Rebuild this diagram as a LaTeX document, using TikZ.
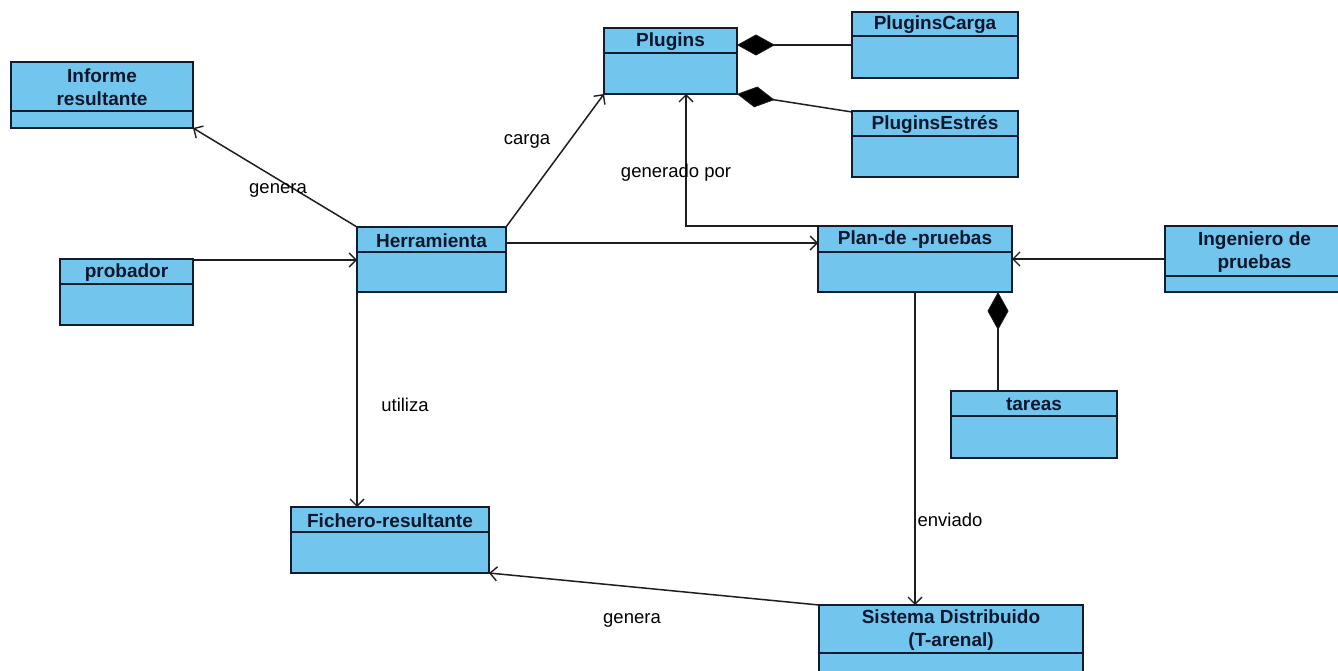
\documentclass[tikz,border=0pt]{standalone}
\usepackage{fontspec}
\setmainfont{Liberation Sans}
\usetikzlibrary{arrows.meta,calc}

\definecolor{classfill}{RGB}{114,198,238}
\definecolor{classline}{RGB}{18,28,46}
\definecolor{classtext}{RGB}{10,22,44}
\definecolor{linkcol}{RGB}{30,30,30}

\tikzset{
  classbox/.style={draw=classline, line width=2pt, fill=classfill, rectangle,
                   inner sep=0pt, outer sep=0pt, anchor=north west},
  classtitle/.style={text=classtext, font=\fontsize{19}{23}\selectfont\bfseries,
                     align=center, inner sep=0pt},
  divider/.style={draw=classline, line width=1.6pt},
  assoc/.style={draw=linkcol, line width=1.5pt,
                -{Straight Barb[length=7pt,width=14pt,line width=1.4pt]}},
  compose/.style={draw=linkcol, line width=1.5pt,
                  {Diamond[length=38pt,width=21pt,fill=black,line width=0.8pt]}-},
  linklabel/.style={font=\fontsize{18.5}{22}\selectfont, text=black, inner sep=0pt},
}

% UML class box: name, x1, y1, x2, y2, divider y, title
\newcommand\umlclass[7]{%
  \pgfmathsetmacro\clw{#4-#2}%
  \pgfmathsetmacro\clh{#5-#3}%
  \node[classbox, minimum width=\clw pt, minimum height=\clh pt] (#1) at (#2,#3) {};
  \draw[divider] (#2,#6) -- (#4,#6);
  \node[classtitle] (#1-title) at ({(#2+#4)/2},{(#3+#6)/2+1}) {#7};
}

\begin{document}
\begin{tikzpicture}[x=1pt,y=-1pt]
\clip (0,0) rectangle (1338,671);
\fill[white] (0,0) rectangle (1338,671);

% classes
\umlclass{inf}{11}{62}{193}{128}{111}{Informe\\resultante}
\umlclass{plug}{604}{28}{737}{94}{53}{Plugins}
\umlclass{carga}{852}{12}{1018}{78}{36}{PluginsCarga}
\umlclass{estres}{852}{111}{1018}{177}{136}{PluginsEstrés}
\umlclass{herr}{357}{227}{506}{292}{252}{Herramienta}
\umlclass{prob}{60}{259}{193}{325}{284}{probador}
\umlclass{plan}{818}{226}{1012}{292}{252}{Plan-de -pruebas}
\umlclass{ing}{1165}{226}{1344}{292}{276}{Ingeniero de\\pruebas}
\umlclass{tareas}{951}{391}{1117}{458}{416}{tareas}
\umlclass{fich}{291}{507}{489}{573}{532}{Fichero-resultante}
\umlclass{sis}{819}{605}{1083}{678}{653}{Sistema Distribuido\\(T-arenal)}

% helper points on box borders
\coordinate (herrR) at ($(herr.north east)+(0,16)$);
\coordinate (gen)   at ($(plug.south west)+(82,0)$);
\coordinate (tarT)  at ($(tareas.north west)+(47,0)$);
\coordinate (probR) at ($(prob.north east)+(0,1)$);

% associations
\draw[assoc] (herr.north west) -- (inf.south east);
\draw[assoc] (herr.north east) -- (plug.south west);
\draw[assoc] (herrR) -- (herrR -| plan.west);
\draw[assoc] (probR) -- (probR -| herr.west);
\draw[assoc] (herr.south west) -- (herr.south west |- fich.north);
\draw[assoc] (plan.north west) -| (gen);
\draw[assoc] (ing.west) -- (ing.west -| plan.east);
\draw[assoc] (plan.south) -- (plan.south |- sis.north);
\draw[assoc] (sis.north west) -- (fich.south east);

% compositions
\draw[compose] (carga.west -| plug.east) -- (carga.west);
\draw[compose] (plug.south east) -- ($(estres.north west)+(0,1)$);
\draw[compose] (tarT |- plan.south) -- (tarT);

% association labels
\node[linklabel] (l1) at (278,190) {genera};
\node[linklabel] (l2) at (527,141) {carga};
\node[linklabel] (l3) at (676,173) {generado por};
\node[linklabel] (l4) at (405,405) {utiliza};
\node[linklabel] (l5) at (950,520) {enviado};
\node[linklabel] (l6) at (632,620) {genera};
\end{tikzpicture}
\end{document}
